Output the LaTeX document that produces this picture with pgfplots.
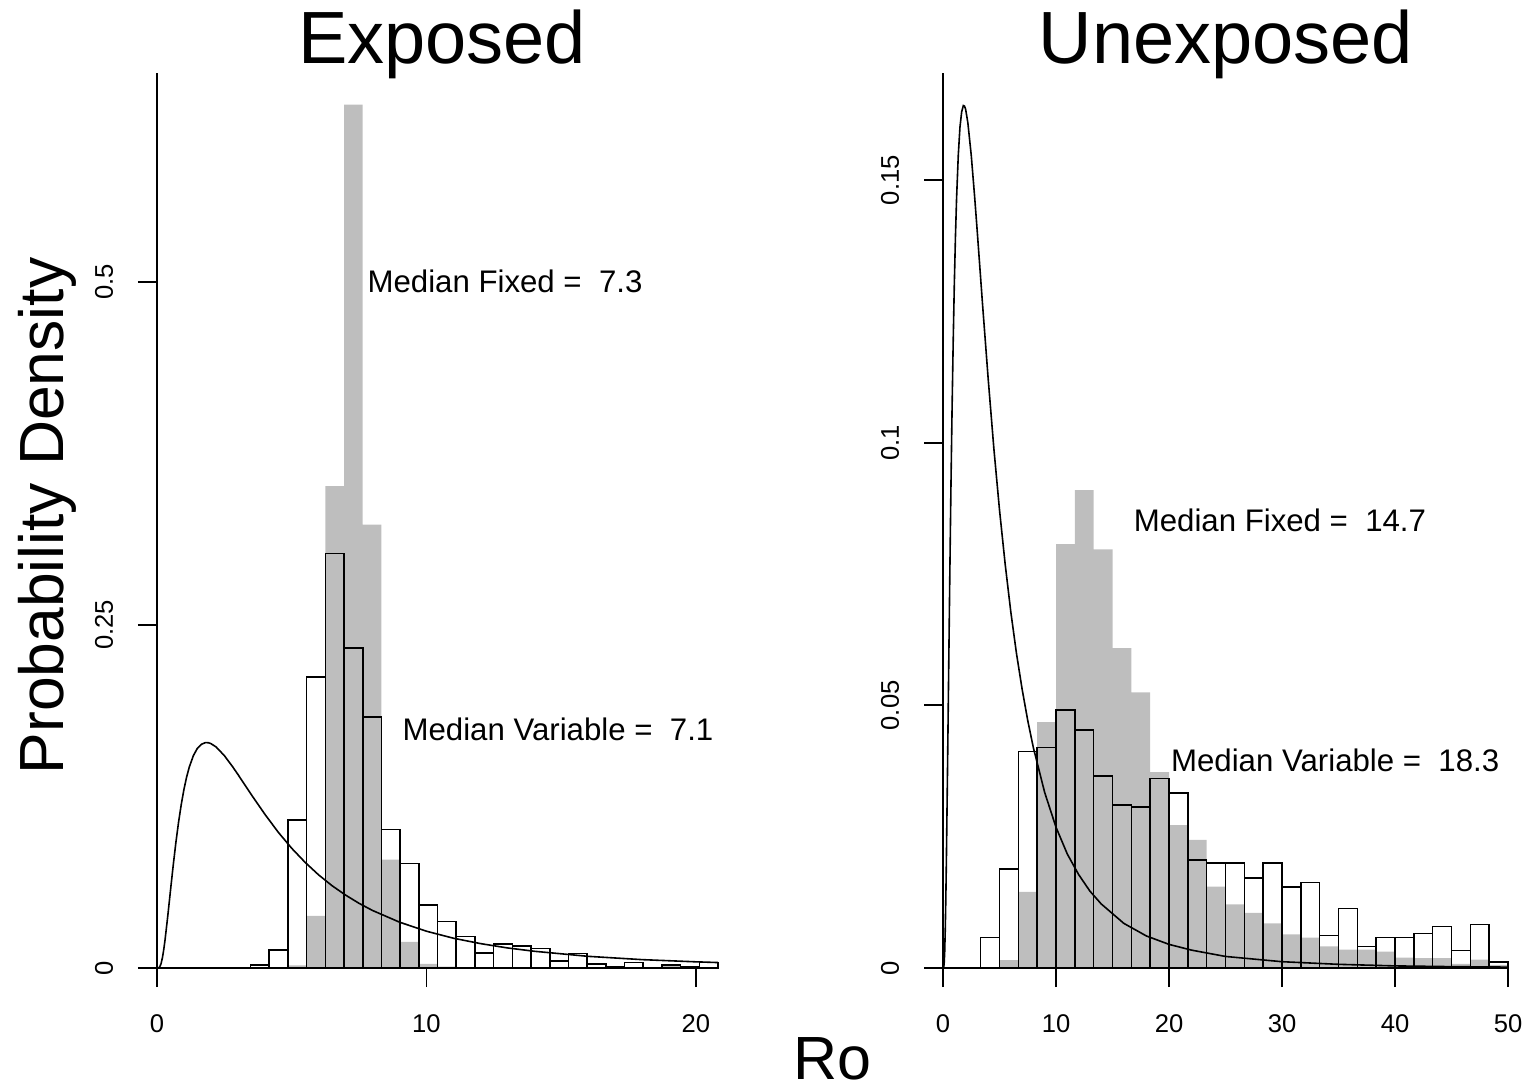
\documentclass[border=0pt]{standalone}
\usepackage{fontspec}
\setmainfont{Liberation Sans}
\usepackage{pgfplots}
\usepackage{pgfplotstable}
\pgfplotsset{compat=1.18}
\definecolor{histgrey}{RGB}{190,190,190}

% Exposed: bin left edges, variable (outlined) and fixed (grey) densities
\pgfplotstableread{
x      white  grey
3.470  0.002  0
4.164  0.013  0
4.858  0.108  0.002
5.552  0.212  0.038
6.246  0.302  0.351
6.940  0.233  0.629
7.634  0.183  0.323
8.328  0.101  0.079
9.022  0.076  0.019
9.716  0.046  0.003
10.410 0.034  0.001
11.104 0.023  0
11.798 0.011  0
12.492 0.0177 0
13.186 0.016  0
13.880 0.0143 0
14.574 0.0051 0
15.268 0.0107 0
15.962 0.0027 0
16.656 0.001  0
17.350 0.0039 0
18.044 0      0
18.738 0.002  0.002
19.432 0.001  0
20.126 0.004  0
20.820 0      0
}\expdata

% Unexposed
\pgfplotstableread{
x      white  grey
3.333  0.0058 0
5.000  0.0188 0.0015
6.667  0.0412 0.0145
8.333  0.0420 0.0468
10.000 0.0491 0.0807
11.667 0.0453 0.0910
13.333 0.0366 0.0797
15.000 0.0310 0.0609
16.667 0.0306 0.0525
18.333 0.0361 0.0373
20.000 0.0333 0.0272
21.667 0.0206 0.0244
23.333 0.0200 0.0155
25.000 0.0200 0.0121
26.667 0.0171 0.0105
28.333 0.0200 0.0085
30.000 0.0154 0.0064
31.667 0.0163 0.0058
33.333 0.0062 0.0041
35.000 0.0113 0.0035
36.667 0.0041 0.0035
38.333 0.0058 0.0031
40.000 0.0058 0.0020
41.667 0.0066 0.0019
43.333 0.0079 0.0019
45.000 0.0033 0.0008
46.667 0.0083 0.0016
48.333 0.0011 0.0006
50.000 0      0
}\unexpdata

% prior density curve
\pgfplotstableread{
x     y
0     0
0.05  0.00005
0.1   0.00078
0.15  0.00313
0.2   0.0074
0.25  0.01335
0.3   0.0207
0.4   0.0379
0.5   0.0564
0.6   0.0745
0.7   0.0913
0.8   0.1062
0.9   0.1191
1.0   0.1301
1.1   0.1392
1.2   0.1465
1.35  0.1547
1.5   0.1601
1.65  0.1630
1.8   0.1642
1.9   0.1641
2.0   0.1635
2.2   0.1609
2.5   0.1547
2.8   0.1468
3.0   0.1411
3.5   0.1263
4.0   0.1121
4.5   0.0989
5.0   0.0872
5.5   0.0769
6.0   0.0678
6.5   0.0599
7.0   0.0531
7.5   0.0471
8.0   0.0419
9.0   0.0334
10.0  0.0268
11.0  0.0217
12.0  0.0178
13.0  0.01464
14.0  0.0122
16.0  0.0085
18.0  0.0061
20.0  0.0045
20.82 0.00397
}\priorA

\pgfplotstableread{
x     y
0     0
0.05  0.00005
0.1   0.00078
0.15  0.00313
0.2   0.0074
0.25  0.01335
0.3   0.0207
0.4   0.0379
0.5   0.0564
0.6   0.0745
0.7   0.0913
0.8   0.1062
0.9   0.1191
1.0   0.1301
1.1   0.1392
1.2   0.1465
1.35  0.1547
1.5   0.1601
1.65  0.1630
1.8   0.1642
1.9   0.1641
2.0   0.1635
2.2   0.1609
2.5   0.1547
2.8   0.1468
3.0   0.1411
3.5   0.1263
4.0   0.1121
4.5   0.0989
5.0   0.0872
5.5   0.0769
6.0   0.0678
6.5   0.0599
7.0   0.0531
7.5   0.0471
8.0   0.0419
9.0   0.0334
10.0  0.0268
11.0  0.0217
12.0  0.0178
13.0  0.01464
14.0  0.0122
16.0  0.0085
18.0  0.0061
20.0  0.0045
22.0  0.0034
25.0  0.0022
30.0  0.0012
35.0  0.0007
40.0  0.0004
45.0  0.00026
50.0  0.00017
}\priorB

\pgfplotsset{
  rpanel/.style={
    scale only axis,
    axis lines=left,
    axis line style={-, line width=0.9pt},
    tick align=outside,
    major tick length=9.5pt,
    tick style={line width=0.9pt, black},
    ymin=0, xmin=0,
    clip=false,
    tick label style={font=\fontsize{12.8}{15}\selectfont},
    /pgf/number format/assume math mode=true,
    xticklabel style={anchor=north, inner sep=0pt, yshift=-13.5pt},
    yticklabel style={rotate=90, anchor=south, inner sep=0pt, yshift=12.25pt},
  },
}
\tikzset{annot/.style={anchor=west, inner sep=0pt, font=\fontsize{15.6}{18}\selectfont}}

\begin{document}
\begin{tikzpicture}
\path[use as bounding box] (0,0) rectangle (764.5pt,543.5pt);

\begin{axis}[rpanel,
  at={(78.5pt,59.5pt)}, anchor=south west,
  width=280.5pt, height=447.5pt,
  xmax=20.82, ymax=0.652,
  xtick={0,10,20}, xticklabels={0,10,20},
  ytick={0,0.25,0.5}, yticklabels={0,0.25,0.5},
]
\addplot[ybar interval, fill=histgrey, draw=none] table[x=x, y=grey] {\expdata};
\addplot[ybar interval, fill=none, draw=black, line width=0.8pt] table[x=x, y=white] {\expdata};
\addplot[black, line width=0.8pt, mark=none] table[x=x, y=y] {\priorA};
\node[annot] at (axis cs:7.8,0.5) {Median Fixed = \ 7.3};
\node[annot] at (axis cs:9.1,0.174) {Median Variable = \ 7.1};
\end{axis}

\begin{axis}[rpanel,
  at={(471.5pt,59.5pt)}, anchor=south west,
  width=282.5pt, height=447.5pt,
  xmax=50, ymax=0.1704,
  xtick={0,10,20,30,40,50}, xticklabels={0,10,20,30,40,50},
  ytick={0,0.05,0.1,0.15}, yticklabels={0,0.05,0.1,0.15},
]
\addplot[ybar interval, fill=histgrey, draw=none] table[x=x, y=grey] {\unexpdata};
\addplot[ybar interval, fill=none, draw=black, line width=0.8pt] table[x=x, y=white] {\unexpdata};
\addplot[black, line width=0.8pt, mark=none] table[x=x, y=y] {\priorB};
\node[annot] at (axis cs:16.85,0.0853) {Median Fixed = \ 14.7};
\node[annot] at (axis cs:20.15,0.0396) {Median Variable = \ 18.3};
\end{axis}

\node[anchor=base, inner sep=0pt, font=\fontsize{37}{41}\selectfont] at (221pt,511.8pt) {Exposed};
\node[anchor=base, inner sep=0pt, font=\fontsize{37}{41}\selectfont] at (613pt,511.8pt) {Unexposed};
\node[anchor=base, inner sep=0pt, font=\fontsize{30.5}{34}\selectfont] at (416pt,3.6pt) {Ro};
\node[anchor=base, rotate=90, inner sep=0pt, font=\fontsize{31.2}{35}\selectfont] at (32pt,285.5pt) {Probability Density};
\end{tikzpicture}
\end{document}
